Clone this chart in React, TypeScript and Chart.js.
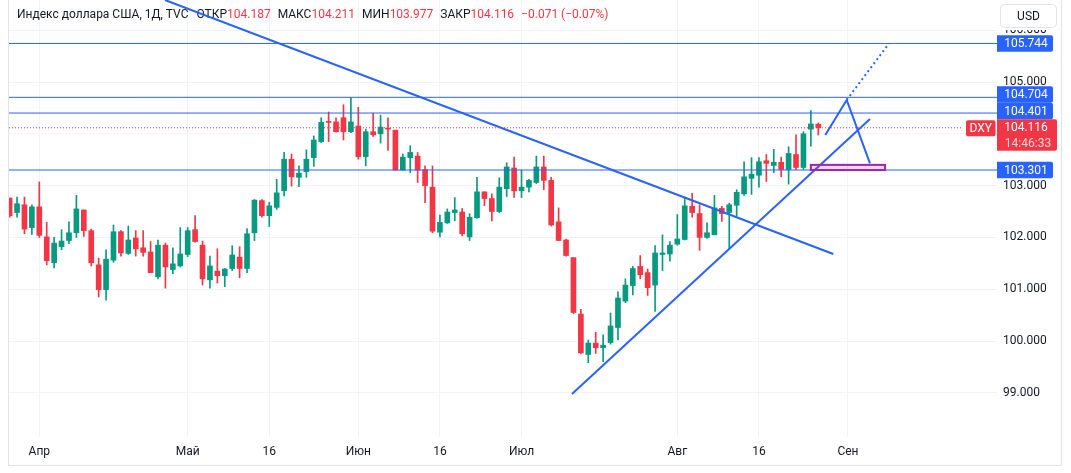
import React, { useEffect, useRef } from 'react';
import { Chart, registerables } from 'chart.js';

Chart.register(...registerables);

// ---- Data (DXY daily, 28 Mar 2023 .. 28 Aug 2023), bar index 0..109 ----
const opens = [
  102.76, 102.48, 102.63, 102.19, 102.59, 102.01, 101.51, 101.82, 101.94, 102.09,
  102.53, 102.13, 101.47, 100.99, 101.56, 102.11, 101.69, 101.99, 101.80, 101.72,
  101.24, 101.85, 101.38, 101.45, 101.67, 102.15, 101.85, 101.18, 101.35, 101.26,
  101.40, 101.62, 101.40, 102.09, 102.71, 102.42, 102.58, 102.90, 103.51, 103.16,
  103.27, 103.54, 103.85, 104.23, 104.23, 104.31, 104.04, 104.15, 103.56, 104.04,
  104.00, 104.11, 104.07, 103.30, 103.54, 103.57, 103.31, 102.97, 102.10, 102.28,
  102.48, 102.49, 102.01, 102.38, 102.88, 102.75, 102.50, 102.94, 103.34, 102.90,
  102.97, 103.06, 103.36, 103.10, 102.30, 101.95, 101.61, 100.52, 99.74, 99.96,
  99.87, 99.97, 100.26, 100.77, 101.07, 101.44, 101.32, 101.08, 101.67, 101.68,
  101.87, 101.96, 102.60, 102.46, 102.00, 102.05, 102.56, 102.48, 102.62, 102.84,
  103.14, 103.20, 103.48, 103.39, 103.45, 103.31, 103.60, 103.35, 104.09, 104.187,
];
const highs = [
  102.76, 102.78, 102.78, 102.63, 103.07, 102.29, 102.00, 102.15, 102.30, 102.81,
  102.53, 102.16, 101.60, 101.76, 102.24, 102.13, 102.22, 102.13, 102.13, 101.92,
  101.95, 101.89, 101.80, 102.19, 102.19, 102.42, 101.93, 101.64, 101.78, 101.40,
  101.84, 101.82, 102.17, 102.73, 102.73, 102.68, 103.12, 103.64, 103.61, 103.38,
  103.69, 103.96, 104.31, 104.42, 104.31, 104.56, 104.70, 104.51, 104.09, 104.40,
  104.36, 104.31, 104.07, 103.61, 103.77, 103.64, 103.38, 103.38, 102.43, 102.55,
  102.77, 102.56, 102.46, 103.16, 102.88, 102.84, 103.15, 103.44, 103.55, 103.30,
  103.12, 103.57, 103.57, 103.16, 102.57, 101.97, 101.61, 100.61, 100.02, 100.17,
  100.12, 100.54, 100.95, 101.20, 101.44, 101.65, 101.39, 101.84, 102.05, 101.92,
  102.44, 102.78, 102.85, 102.63, 102.28, 102.81, 102.60, 102.66, 102.92, 103.46,
  103.54, 103.54, 103.60, 103.70, 103.55, 103.75, 103.98, 104.04, 104.45, 104.211,
];
const lows = [
  102.39, 102.39, 102.07, 102.06, 102.00, 101.47, 101.41, 101.76, 101.88, 102.00,
  102.02, 101.45, 100.85, 100.79, 101.52, 101.64, 101.67, 101.64, 101.64, 101.32,
  101.20, 101.02, 101.30, 101.43, 101.63, 101.91, 101.08, 101.02, 101.12, 101.05,
  101.36, 101.22, 101.32, 101.94, 102.39, 102.21, 102.54, 102.80, 102.99, 102.98,
  103.16, 103.37, 103.83, 103.85, 104.03, 103.88, 104.02, 103.51, 103.38, 103.95,
  103.82, 103.68, 103.30, 103.30, 103.25, 103.06, 102.67, 102.09, 102.01, 102.27,
  102.32, 102.03, 101.94, 102.37, 102.61, 102.32, 102.48, 102.79, 102.77, 102.77,
  102.88, 103.04, 102.92, 102.22, 101.94, 101.64, 100.53, 99.76, 99.58, 99.76,
  99.60, 99.94, 100.02, 100.74, 100.89, 101.20, 100.88, 100.57, 101.36, 101.54,
  101.85, 101.95, 102.39, 101.75, 101.98, 102.05, 102.31, 101.78, 102.41, 102.81,
  102.83, 102.97, 103.08, 103.25, 103.17, 103.03, 103.31, 103.31, 103.76, 103.977,
];
const closes = [
  102.42, 102.65, 102.16, 102.59, 102.04, 101.55, 101.89, 101.93, 102.09, 102.55,
  102.13, 101.51, 100.99, 101.58, 102.11, 101.70, 101.95, 101.78, 101.71, 101.32,
  101.85, 101.43, 101.49, 101.68, 102.13, 101.92, 101.20, 101.45, 101.26, 101.39,
  101.66, 101.40, 102.07, 102.72, 102.42, 102.61, 102.86, 103.51, 103.17, 103.24,
  103.51, 103.88, 104.22, 104.22, 104.04, 104.04, 104.23, 103.56, 104.04, 103.98,
  104.13, 104.09, 103.30, 103.55, 103.64, 103.30, 103.00, 102.12, 102.29, 102.49,
  102.53, 102.07, 102.39, 102.88, 102.75, 102.50, 102.97, 103.36, 102.90, 102.97,
  103.10, 103.36, 103.10, 102.24, 101.94, 101.65, 100.55, 99.77, 99.96, 99.87,
  99.92, 100.29, 100.83, 101.08, 101.40, 101.28, 101.03, 101.70, 101.70, 101.85,
  101.97, 102.61, 102.48, 102.00, 102.09, 102.57, 102.46, 102.63, 102.87, 103.17,
  103.22, 103.46, 103.43, 103.45, 103.31, 103.62, 103.35, 104.00, 104.19, 104.116,
];

// ---- Axes ----
const X_MIN = -0.084;
const X_MAX = 133.09;
const Y_MIN = 98.147;
const Y_MAX = 106.583;
const timeTickIndex = [4, 24, 35, 47, 58, 69, 90, 101, 113];
const timeTickLabels = ['Апр', 'Май', '16', 'Июн', '16', 'Июл', 'Авг', '16', 'Сен'];
const priceTicks = [99, 100, 101, 102, 103, 104, 105, 106];

// ---- Drawings ----
const levelPrices = [105.744, 104.704, 104.401, 103.301];
const downTrendX = [20.94, 111.02];
const downTrendY = [106.583, 101.68];
const upTrendX = [75.8, 115.97];
const upTrendY = [98.977, 104.286];
const projectionX = [109.95, 112.83, 115.97];
const projectionY = [103.977, 104.653, 103.43];
const projectionDottedX = [112.83, 118.53];
const projectionDottedY = [104.653, 105.744];
const zoneX = [108, 118];
const zoneY = [103.301, 103.40];
const priceLineEndX = 128.5;
const lastClose = 104.116;
const countdown = '14:46:33';
const symbolName = 'DXY';
const titleParts: { t: string; red: boolean; gap: number }[] = [
  { t: 'Индекс доллара США, 1Д, TVC', red: false, gap: 8 },
  { t: 'ОТКР', red: false, gap: 0 },
  { t: '104.187', red: true, gap: 7 },
  { t: 'МАКС', red: false, gap: 0 },
  { t: '104.211', red: true, gap: 7 },
  { t: 'МИН', red: false, gap: 0 },
  { t: '103.977', red: true, gap: 7 },
  { t: 'ЗАКР', red: false, gap: 0 },
  { t: '104.116', red: true, gap: 7 },
  { t: '−0.071 (−0.07%)', red: true, gap: 0 },
];

const UP = '#089981';
const DOWN = '#f23645';
const BLUE = '#2962ff';
const TEXT = '#131722';
const GRID = '#f0f3fa';
const FRAME = '#e0e3eb';
const FONT = 'Roboto, "Noto Sans", sans-serif';

const pts = (xs: number[], ys: number[]) => xs.map((x, i) => ({ x, y: ys[i] }));

const decorPlugin = {
  id: 'decor',
  beforeDatasetsDraw(chart: any) {
    const ctx = chart.ctx;
    ctx.save();
    ctx.font = `12px ${FONT}`;
    ctx.textBaseline = 'middle';
    let x = 17;
    for (const p of titleParts) {
      ctx.fillStyle = p.red ? DOWN : TEXT;
      ctx.fillText(p.t, x, 15);
      x += ctx.measureText(p.t).width + p.gap;
    }
    ctx.restore();
  },
  afterDatasetsDraw(chart: any) {
    const ctx = chart.ctx;
    const xs = chart.scales.x;
    const ys = chart.scales.y;
    const zx0 = xs.getPixelForValue(zoneX[0]);
    const zx1 = xs.getPixelForValue(zoneX[1]);
    const zy0 = ys.getPixelForValue(zoneY[1]);
    const zy1 = ys.getPixelForValue(zoneY[0]);
    ctx.save();
    ctx.fillStyle = 'rgba(156,39,176,0.18)';
    ctx.fillRect(zx0, zy0, zx1 - zx0, zy1 - zy0);
    ctx.strokeStyle = '#9c27b0';
    ctx.lineWidth = 2;
    ctx.strokeRect(zx0, zy0, zx1 - zx0, zy1 - zy0);
    ctx.restore();
  },
  afterDraw(chart: any) {
    const ctx = chart.ctx;
    const ys = chart.scales.y;
    const area = chart.chartArea;
    ctx.save();
    ctx.strokeStyle = FRAME;
    ctx.lineWidth = 1;
    ctx.strokeRect(8.5, -0.5, 1053, 466);

    const redCenter = ys.getPixelForValue(lastClose);
    const redBox = { top: redCenter - 8.5, h: 31.5 };
    const boxes = levelPrices.map((v) => {
      const c = ys.getPixelForValue(v);
      return { v, top: c - 8.25, h: 16.5 };
    });
    const above = boxes.filter((b) => b.top < redBox.top).sort((a, b) => b.top - a.top);
    let limit = redBox.top;
    for (const b of above) {
      if (b.top + b.h > limit) b.top = limit - b.h;
      limit = b.top;
    }
    const below = boxes.filter((b) => b.top >= redBox.top).sort((a, b) => a.top - b.top);
    limit = redBox.top + redBox.h;
    for (const b of below) {
      if (b.top < limit) b.top = limit;
      limit = b.top + b.h;
    }
    ctx.font = `12px ${FONT}`;
    ctx.textAlign = 'center';
    ctx.textBaseline = 'middle';
    const lx = area.right;
    for (const b of boxes) {
      ctx.fillStyle = BLUE;
      ctx.beginPath();
      ctx.roundRect(lx, b.top, 56, b.h, [0, 2, 2, 0]);
      ctx.fill();
      ctx.fillStyle = '#ffffff';
      ctx.fillText(b.v.toFixed(3), lx + 29, b.top + b.h / 2 + 0.5);
    }
    ctx.fillStyle = DOWN;
    ctx.beginPath();
    ctx.roundRect(lx, redBox.top, 60, redBox.h, [0, 2, 2, 0]);
    ctx.fill();
    ctx.fillStyle = '#ffffff';
    ctx.fillText(lastClose.toFixed(3), lx + 29, redCenter + 0.5);
    ctx.fillStyle = 'rgba(255,255,255,0.78)';
    ctx.fillText(countdown, lx + 31, redCenter + 16);

    ctx.fillStyle = DOWN;
    ctx.beginPath();
    ctx.roundRect(area.right - 31, redCenter - 7.5, 29.5, 16, 2);
    ctx.fill();
    ctx.fillStyle = '#ffffff';
    ctx.fillText(symbolName, area.right - 16.3, redCenter + 0.8);

    ctx.fillStyle = '#ffffff';
    ctx.fillRect(999, 0, 60, 30);
    ctx.strokeStyle = FRAME;
    ctx.beginPath();
    ctx.roundRect(1000.5, 4.5, 56, 23, 4);
    ctx.fill();
    ctx.stroke();
    ctx.fillStyle = TEXT;
    ctx.fillText('USD', 1028.5, 16.5);
    ctx.restore();
  },
};

export default function App() {
  const ref = useRef<HTMLCanvasElement | null>(null);
  useEffect(() => {
    if (!ref.current) return;
    const colors = closes.map((c, i) => (c >= opens[i] ? UP : DOWN));
    const lineDs = (data: any[], color: string, width: number, dash: number[] = []) => ({
      type: 'line' as const,
      data,
      borderColor: color,
      borderWidth: width,
      borderDash: dash,
      pointRadius: 0,
      fill: false,
      tension: 0,
      order: 0,
    });
    const chart = new Chart(ref.current, {
      type: 'bar',
      data: {
        datasets: [
          ...levelPrices.map((v) => lineDs([{ x: X_MIN, y: v }, { x: X_MAX, y: v }], BLUE, 1)),
          lineDs([{ x: X_MIN, y: lastClose }, { x: priceLineEndX, y: lastClose }], DOWN, 1, [1, 2]),
          lineDs(pts(downTrendX, downTrendY), BLUE, 2),
          lineDs(pts(upTrendX, upTrendY), BLUE, 2),
          lineDs(pts(projectionX, projectionY), BLUE, 2),
          lineDs(pts(projectionDottedX, projectionDottedY), BLUE, 2, [2, 3]),
          {
            type: 'bar' as const,
            data: highs.map((h, i) => ({ x: i, y: [lows[i], h] })),
            backgroundColor: colors,
            barThickness: 1,
            grouped: false,
            borderWidth: 0,
            order: 3,
          },
          {
            type: 'bar' as const,
            data: opens.map((o, i) => ({ x: i, y: [o, closes[i]] })),
            backgroundColor: colors,
            barThickness: 5,
            grouped: false,
            borderWidth: 0,
            minBarLength: 1,
            order: 2,
          },
        ] as any,
      },
      options: {
        animation: false,
        responsive: false,
        maintainAspectRatio: false,
        events: [],
        layout: { padding: { left: 9, right: 10, top: 0, bottom: 8 } },
        plugins: { legend: { display: false }, tooltip: { enabled: false }, title: { display: false } },
        scales: {
          x: {
            type: 'linear',
            min: X_MIN,
            max: X_MAX,
            offset: false,
            grid: { color: GRID, drawTicks: false, offset: false },
            border: { display: false },
            afterBuildTicks: (s: any) => {
              s.ticks = timeTickIndex.map((v) => ({ value: v }));
            },
            afterFit: (s: any) => {
              s.height = 28;
              s.paddingLeft = 0;
              s.paddingRight = 0;
            },
            ticks: {
              autoSkip: false,
              maxRotation: 0,
              padding: 8,
              color: TEXT,
              font: { family: FONT, size: 12 },
              callback: (_v: any, i: number) => timeTickLabels[i],
            },
          },
          y: {
            type: 'linear',
            position: 'right',
            min: Y_MIN,
            max: Y_MAX,
            grid: { color: GRID, drawTicks: false },
            border: { display: false },
            afterBuildTicks: (s: any) => {
              s.ticks = priceTicks.map((v) => ({ value: v }));
            },
            afterFit: (s: any) => {
              s.width = 64;
              s.paddingTop = 0;
              s.paddingBottom = 0;
            },
            ticks: {
              padding: 6,
              color: TEXT,
              font: { family: FONT, size: 12 },
              callback: (v: any) => Number(v).toFixed(3),
            },
          },
        },
      } as any,
      plugins: [decorPlugin],
    });
    return () => chart.destroy();
  }, []);
  return (
    <div style={{ position: 'absolute', left: 0, top: 0, width: 1071, height: 473, background: '#ffffff' }}>
      <canvas ref={ref} width={1071} height={473} style={{ display: 'block' }} />
    </div>
  );
}
